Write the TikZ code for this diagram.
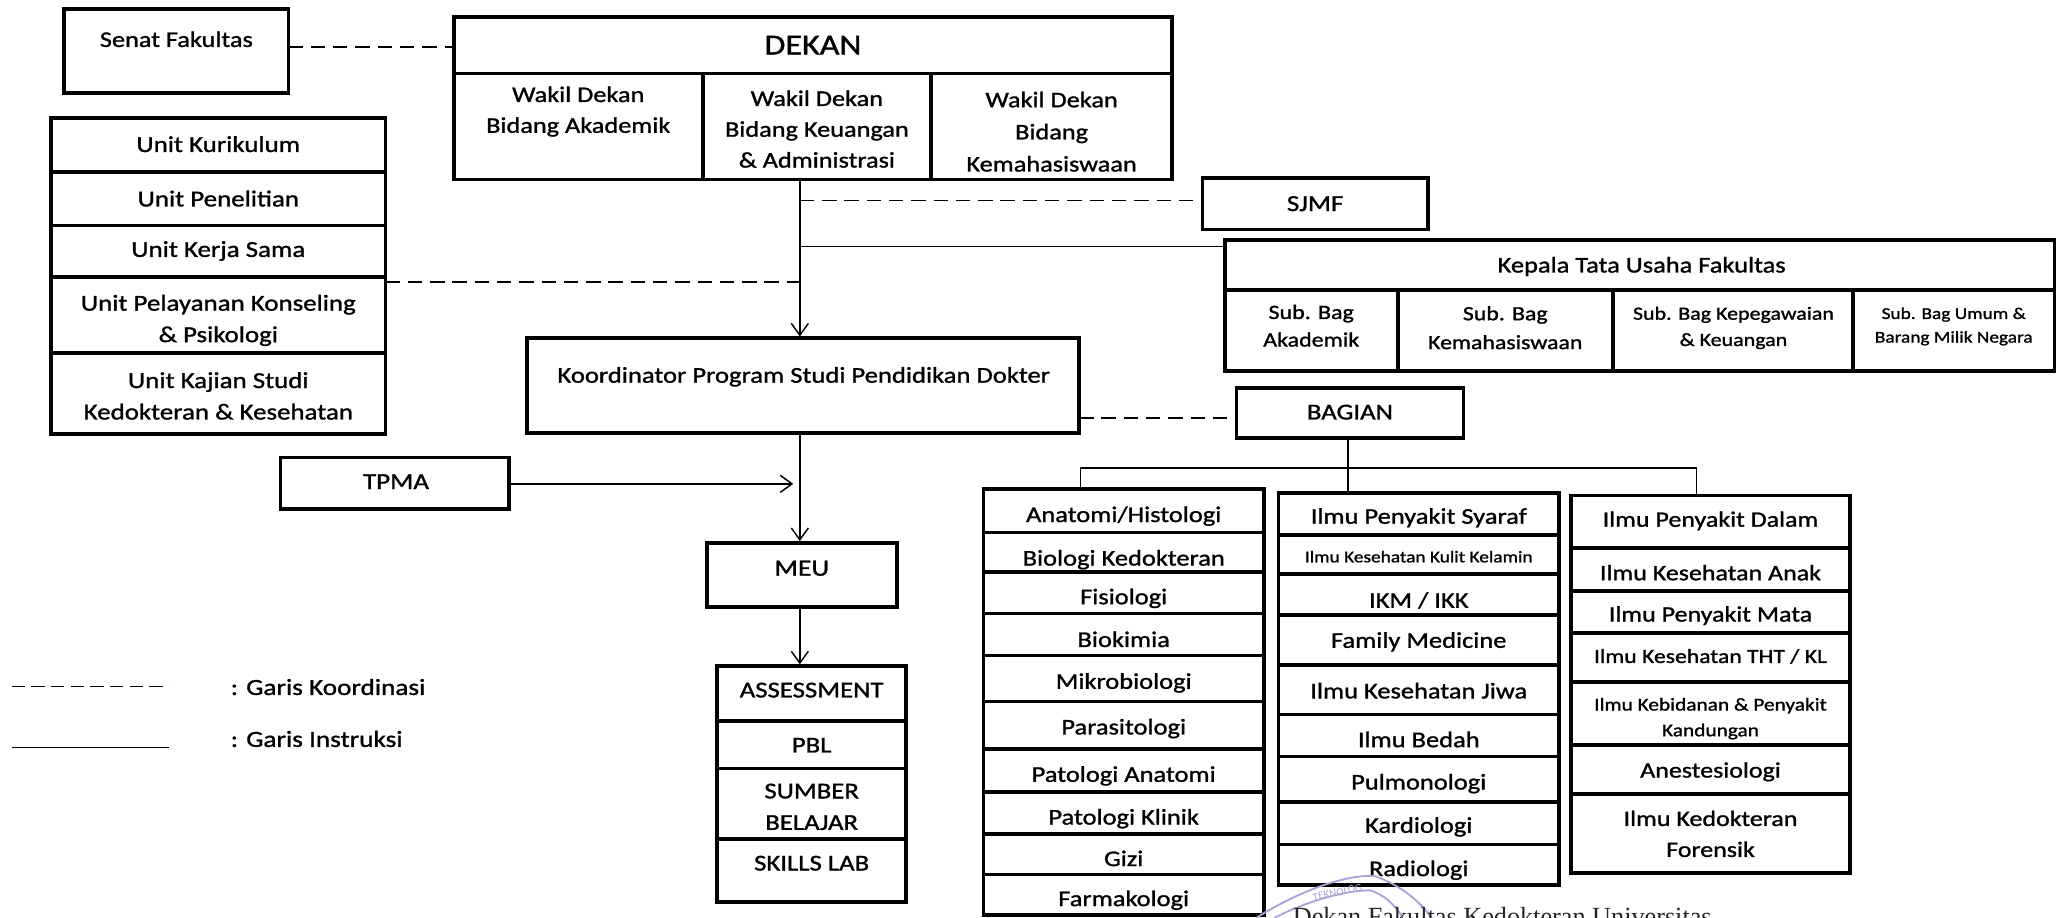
\documentclass[tikz,border=0pt]{standalone}
\usepackage{fontspec}
\setmainfont{Carlito}[FakeStretch=1.18,FakeBold=1.2]
\newfontfamily\signfont{Liberation Serif}
\newfontfamily\stampfont{Carlito}
\usetikzlibrary{arrows.meta}
\definecolor{stampc}{RGB}{172,162,214}
\newcommand\mybox[5]{\node[box, minimum width={#4pt-#2pt}, minimum height={#5pt-#3pt}] (#1) at (#2,#3) {};}
\newcommand\mlines[1]{\begin{tabular}[t]{@{}c@{}}#1\end{tabular}}
\newcommand\tlab[6]{\node[lbl, font=\fontsize{#1}{#2}\selectfont] (#3) at (#4,{#5+0.34*#1}) {#6};}
\begin{document}
\begin{tikzpicture}[x=1pt,y=-1pt,
  box/.style={draw, line width=2.8pt, inner sep=0pt, outer sep=0pt, anchor=north west},
  lbl/.style={inner sep=0pt, outer sep=0pt, anchor=base},
  instr/.style={line width=1.1pt},
  coordl/.style={line width=1.3pt, dash pattern=on 11pt off 6pt},
  arr/.style={-{Straight Barb[length=9pt,width=13pt,line width=1.1pt]}},
  stamp/.style={draw=stampc, line width=1.4pt}]
\useasboundingbox (0,0) rectangle (1568,700);
\clip (0,0) rectangle (1568,700);

% Senat
\mybox{senat}{49}{7}{220}{71}
\tlab{17}{20}{senatt}{134.5}{30}{Senat Fakultas}

% Dekan block
\mybox{dekan}{346}{13}{894}{56}
\tlab{22}{24}{dekant}{620}{34}{DEKAN}
\mybox{wda}{346}{56}{536}{137}
\mybox{wdk}{536}{56}{710}{137}
\mybox{wdm}{710}{56}{894}{137}
\tlab{17}{23.5}{wdat}{441}{72}{\mlines{Wakil Dekan\\Bidang Akademik}}
\tlab{17}{23.5}{wdkt}{623}{75}{\mlines{Wakil Dekan\\Bidang Keuangan\\\& Administrasi}}
\tlab{17}{24.5}{wdmt}{802}{76}{\mlines{Wakil Dekan\\Bidang\\Kemahasiswaan}}

% Units column
\mybox{kur}{39}{90}{294}{131}
\mybox{pen}{39}{131}{294}{172}
\mybox{ker}{39}{172}{294}{211}
\mybox{pel}{39}{211}{294}{269}
\mybox{kaj}{39}{269}{294}{331}
\tlab{17.4}{24}{kurt}{166.5}{110}{Unit Kurikulum}
\tlab{17.4}{24}{pent}{166.5}{151.5}{Unit Penelitian}
\tlab{17.4}{24}{kert}{166.5}{190}{Unit Kerja Sama}
\tlab{17.4}{24}{pelt}{166.5}{231}{\mlines{Unit Pelayanan Konseling\\\& Psikologi}}
\tlab{17.4}{24}{kajt}{166.5}{290}{\mlines{Unit Kajian Studi\\Kedokteran \& Kesehatan}}

% SJMF and KTU
\mybox{sjmf}{917}{136}{1089}{175}
\tlab{17.5}{20}{sjmft}{1003}{155}{SJMF}
\mybox{ktu}{934}{183}{1567}{221}
\tlab{17.1}{20}{ktut}{1252}{202}{Kepala Tata Usaha Fakultas}
\mybox{sba}{934}{221}{1066}{283}
\mybox{sbk}{1066}{221}{1230}{283}
\mybox{sbp}{1230}{221}{1413}{283}
\mybox{sbu}{1413}{221}{1567}{283}
\tlab{15.5}{21}{sbat}{1000}{238}{\mlines{Sub. Bag\\Akademik}}
\tlab{15.4}{22}{sbkt}{1148}{239}{\mlines{Sub. Bag\\Kemahasiswaan}}
\tlab{14.2}{20}{sbpt}{1322}{239}{\mlines{Sub. Bag Kepegawaian\\\& Keuangan}}
\tlab{12.5}{18}{sbut}{1490}{239}{\mlines{Sub. Bag Umum \&\\Barang Milik Negara}}

% Koordinator, Bagian, TPMA, MEU
\mybox{koor}{402}{258}{823}{330}
\tlab{17.2}{20}{koort}{613}{286}{Koordinator Program Studi Pendidikan Dokter}
\mybox{bag}{943}{296}{1116}{334}
\tlab{17.3}{20}{bagt}{1029.5}{314}{BAGIAN}
\mybox{tpma}{214}{349}{388}{388}
\tlab{17.5}{20}{tpmat}{302}{367}{TPMA}
\mybox{meu}{539}{414}{684}{463}
\tlab{17.8}{20}{meut}{611.5}{433}{MEU}

% MEU stack
\mybox{ass}{547}{508}{691}{550}
\mybox{pbl}{547}{550}{691}{586}
\mybox{sum}{547}{586}{691}{640}
\mybox{skl}{547}{640}{691}{688}
\tlab{17.3}{24}{asst}{619}{526}{ASSESSMENT}
\tlab{17.3}{24}{pblt}{619}{568}{PBL}
\tlab{17.3}{24}{sumt}{619}{603}{\mlines{SUMBER\\BELAJAR}}
\tlab{17.3}{24}{sklt}{619}{658}{SKILLS LAB}

% Column 1
\mybox{ca1}{750}{373}{964}{406}
\mybox{ca2}{750}{406}{964}{436}
\mybox{ca3}{750}{436}{964}{468}
\mybox{ca4}{750}{468}{964}{500}
\mybox{ca5}{750}{500}{964}{535}
\mybox{ca6}{750}{535}{964}{571}
\mybox{ca7}{750}{571}{964}{604}
\mybox{ca8}{750}{604}{964}{636}
\mybox{ca9}{750}{636}{964}{667}
\mybox{ca10}{750}{667}{964}{698}
\tlab{17.1}{20}{ca1t}{857}{392.3}{Anatomi/Histologi}
\tlab{17.1}{20}{ca2t}{857}{425.5}{Biologi Kedokteran}
\tlab{17.1}{20}{ca3t}{857}{455}{Fisiologi}
\tlab{17.1}{20}{ca4t}{857}{487.6}{Biokimia}
\tlab{17.1}{20}{ca5t}{857}{519.5}{Mikrobiologi}
\tlab{17.1}{20}{ca6t}{857}{554.3}{Parasitologi}
\tlab{17.1}{20}{ca7t}{857}{590.4}{Patologi Anatomi}
\tlab{17.1}{20}{ca8t}{857}{623}{Patologi Klinik}
\tlab{17.1}{20}{ca9t}{857}{654.7}{Gizi}
\tlab{17.1}{20}{ca10t}{857}{685.2}{Farmakologi}

% Column 2
\mybox{cb1}{975}{376}{1189}{408}
\mybox{cb2}{975}{408}{1189}{438}
\mybox{cb3}{975}{438}{1189}{469}
\mybox{cb4}{975}{469}{1189}{507}
\mybox{cb5}{975}{507}{1189}{545}
\mybox{cb6}{975}{545}{1189}{577}
\mybox{cb7}{975}{577}{1189}{611.5}
\mybox{cb8}{975}{611.5}{1189}{644}
\mybox{cb9}{975}{644}{1189}{675}
\tlab{17.1}{20}{cb1t}{1082}{393.6}{Ilmu Penyakit Syaraf}
\tlab{12.5}{20}{cb2t}{1082}{424.6}{Ilmu Kesehatan Kulit Kelamin}
\tlab{17.1}{20}{cb3t}{1082}{457.7}{IKM / IKK}
\tlab{17.1}{20}{cb4t}{1082}{488.2}{Family Medicine}
\tlab{17.1}{20}{cb5t}{1082}{526.8}{Ilmu Kesehatan Jiwa}
\tlab{17.1}{20}{cb6t}{1082}{564}{Ilmu Bedah}
\tlab{17.1}{20}{cb7t}{1082}{596.3}{Pulmonologi}
\tlab{17.1}{20}{cb8t}{1082}{629.3}{Kardiologi}
\tlab{17.1}{20}{cb9t}{1082}{662.3}{Radiologi}

% Column 3
\mybox{cc1}{1198}{378}{1411}{418}
\mybox{cc2}{1198}{418}{1411}{450.5}
\mybox{cc3}{1198}{450.5}{1411}{483}
\mybox{cc4}{1198}{483}{1411}{520}
\mybox{cc5}{1198}{520}{1411}{568}
\mybox{cc6}{1198}{568}{1411}{605.6}
\mybox{cc7}{1198}{605.6}{1411}{665.6}
\tlab{16.8}{20}{cc1t}{1304.5}{396}{Ilmu Penyakit Dalam}
\tlab{16.8}{20}{cc2t}{1304.5}{436.8}{Ilmu Kesehatan Anak}
\tlab{16.8}{20}{cc3t}{1304.5}{468.3}{Ilmu Penyakit Mata}
\tlab{15.3}{20}{cc4t}{1304.5}{500.4}{Ilmu Kesehatan THT / KL}
\tlab{13.8}{19.6}{cc5t}{1304.5}{537.2}{\mlines{Ilmu Kebidanan \& Penyakit\\Kandungan}}
\tlab{16.8}{20}{cc6t}{1304.5}{587.3}{Anestesiologi}
\tlab{16.8}{23.6}{cc7t}{1304.5}{624.2}{\mlines{Ilmu Kedokteran\\Forensik}}

% Connectors
\coordinate (spine) at (610,137);
\coordinate (spineb) at (610,330);
\coordinate (jS) at (610,153);
\coordinate (jK) at (610,188);
\coordinate (jU) at (610,215);
\coordinate (jT) at (605,369);
\coordinate (jD) at (0,36);
\coordinate (jB) at (0,319);
\draw[coordl] (jD -| senat.east) -- (jD -| dekan.west);
\draw[instr, arr] (spine) -- ([yshift=1.4pt]spine |- koor.north);
\draw[coordl] (jS) -- (jS -| sjmf.west);
\draw[instr] (jK) -- (jK -| ktu.west);
\draw[coordl] (jU -| pel.east) -- (jU);
\draw[instr, arr] (spineb) -- ([yshift=1.4pt]spineb |- meu.north);
\draw[instr, arr] (jT -| tpma.east) -- (jT);
\draw[instr, arr] (spineb |- meu.south) -- ([yshift=1.4pt]spineb |- ass.north);
\draw[coordl] (jB -| koor.east) -- (jB -| bag.west);
\coordinate (tL) at (824,357);
\coordinate (tC) at (1028,357);
\coordinate (tR) at (1294,357);
\draw[instr, line join=miter] (tL |- ca1.north) -- (tL) -- (tR) -- (tR |- cc1.north);
\draw[instr] (tC |- bag.south) -- (tC |- cb1.north);

% Legend
\coordinate (lga) at (9,523.5);
\coordinate (lgb) at (129,523.5);
\coordinate (lgc) at (9,570);
\coordinate (lgd) at (129,570);
\draw[coordl, dash pattern=on 10pt off 5pt] (lga) -- (lgb);
\draw[instr] (lgc) -- (lgd);
\node[lbl, anchor=base west, font=\fontsize{17.6}{20}\selectfont] (lgat) at (176,530) {: Garis Koordinasi};
\node[lbl, anchor=base west, font=\fontsize{17.6}{20}\selectfont] (lgct) at (176,569.6) {: Garis Instruksi};

% Stamp and signature line (cut at the bottom edge)
\draw[stamp] (958,700) .. controls (990,680) and (1025,667) .. (1048,668) .. controls (1065,674) and (1080,684) .. (1092,700);
\draw[stamp] (972,700) .. controls (995,688) and (1025,679) .. (1045,679) .. controls (1055,682) and (1064,690) .. (1070,700);
\node[lbl, anchor=center, rotate=12, text=stampc, font=\stampfont\fontsize{8.5}{10}\selectfont] (stampt) at (1020,680.5) {TEKNOLOG};
\node[lbl, anchor=base west, text=black!85, font=\signfont\fontsize{20}{22}\selectfont] (sign) at (986,706) {Dekan Fakultas Kedokteran Universitas};
\end{tikzpicture}
\end{document}
